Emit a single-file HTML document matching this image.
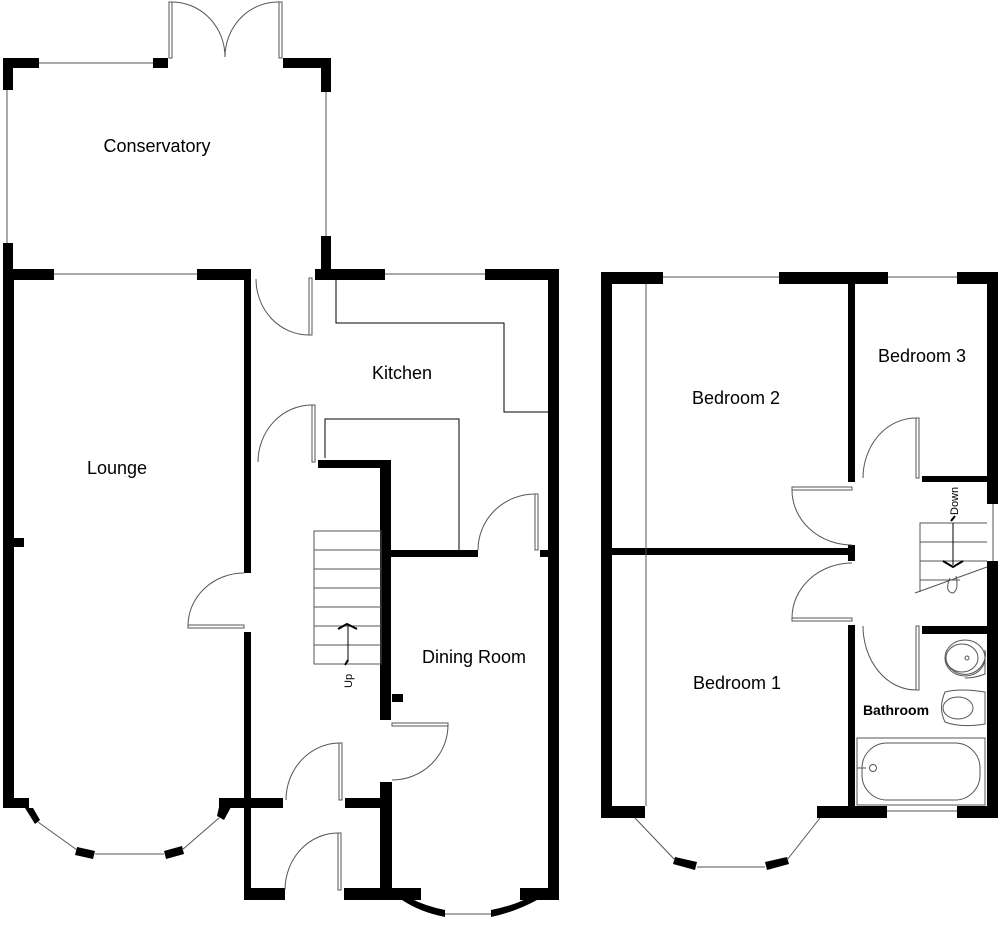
<!DOCTYPE html>
<html><head><meta charset="utf-8"><style>
html,body{margin:0;padding:0;background:#fff;}
svg{display:block;}
text{font-family:"Liberation Sans",Arial,sans-serif;fill:#000;}
</style></head><body>
<svg width="1000" height="929" viewBox="0 0 1000 929" xmlns="http://www.w3.org/2000/svg">
<g fill="#000" stroke="none">
<rect x="3" y="58" width="36" height="10"/><rect x="3" y="58" width="10" height="32"/>
<rect x="153" y="58" width="15" height="10"/>
<rect x="283" y="58" width="48" height="10"/><rect x="321" y="58" width="10" height="34"/>
<rect x="321" y="236" width="10" height="42"/>
<rect x="3" y="243" width="10" height="37"/>
<rect x="3" y="269" width="51" height="11"/>
<rect x="197" y="269" width="54" height="11"/>
<rect x="244" y="269" width="7" height="304"/>
<rect x="244" y="632" width="7" height="268"/>
<rect x="315" y="269" width="70" height="11"/>
<rect x="485" y="269" width="74" height="11"/>
<rect x="548" y="269" width="11" height="631"/>
<rect x="3" y="269" width="11" height="539"/>
<rect x="14" y="538" width="10" height="9"/>
<rect x="3" y="798" width="26" height="10"/>
<rect x="219" y="798" width="64" height="10"/>
<rect x="345" y="798" width="44" height="10"/>
<rect x="318" y="460" width="71" height="8"/>
<rect x="380" y="460" width="11" height="260"/>
<rect x="380" y="782" width="12" height="118"/>
<rect x="389" y="550" width="89" height="7"/>
<rect x="540" y="550" width="8" height="7"/>
<rect x="392" y="694" width="11" height="8"/>
<rect x="244" y="888" width="41" height="12"/>
<rect x="344" y="888" width="77" height="12"/>
<rect x="520" y="888" width="39" height="12"/>
<polygon points="25,808 33,808 40,820 35,824"/>
<polygon points="77,847 95,851 93,859 75,855"/>
<polygon points="164,851 182,846 184,854 166,859"/>
<polygon points="219,807 231,807 224,820 217,816"/>
<path d="M402,900 Q420,912 445,917 L445,910 Q425,906 410,898 Z"/>
<path d="M491,917 Q515,912 537,900 L528,898 Q512,906 491,910 Z"/>
<rect x="601" y="272" width="62" height="12"/>
<rect x="779" y="272" width="109" height="12"/>
<rect x="957" y="272" width="41" height="12"/>
<rect x="601" y="272" width="11" height="546"/>
<rect x="848" y="272" width="7" height="210"/>
<rect x="987" y="272" width="11" height="232"/>
<rect x="922" y="476" width="65" height="6"/>
<rect x="601" y="548" width="254" height="7"/>
<rect x="848" y="545" width="7" height="16"/>
<rect x="848" y="625" width="7" height="193"/>
<rect x="922" y="626" width="65" height="8"/>
<rect x="987" y="561" width="11" height="257"/>
<rect x="601" y="806" width="44" height="12"/>
<rect x="817" y="806" width="70" height="12"/>
<rect x="957" y="806" width="41" height="12"/>
<polygon points="675,857 697,862 695,870 673,864"/>
<polygon points="765,862 787,857 789,864 767,870"/>
</g>
<g fill="none" stroke="#555" stroke-width="1">
<line x1="39" y1="63" x2="153" y2="63"/>
<line x1="7" y1="90" x2="7" y2="243"/>
<line x1="326" y1="92" x2="326" y2="236"/>
<line x1="54" y1="274" x2="197" y2="274"/>
<line x1="385" y1="274" x2="485" y2="274"/>
<rect x="169" y="2" width="3" height="56"/><rect x="279" y="2" width="3" height="56"/>
<path d="M172,2 A53,55 0 0 1 225,57"/>
<path d="M279,2 A53,55 0 0 0 225,57"/>
<rect x="309" y="278" width="3" height="57"/>
<path d="M256,279 A53,56 0 0 0 309,335"/>
<polyline points="336,280 336,323 504,323 504,412 548,412" stroke="#000"/>
<polyline points="325,458 325,419 459,419 459,550" stroke="#000"/>
<rect x="312" y="405" width="3" height="57"/>
<path d="M312,405 A54,57 0 0 0 258,462"/>
<rect x="535" y="494" width="3" height="56"/>
<path d="M535,494 A57,56 0 0 0 478,550"/>
<rect x="188" y="625" width="56" height="3"/>
<path d="M244,573 A56,53 0 0 0 188,626"/>
<rect x="392" y="723" width="56" height="3"/>
<path d="M448,725 A56,55 0 0 1 392,780"/>
<rect x="339" y="743" width="3" height="57"/>
<path d="M339,743 A54,57 0 0 0 286,800"/>
<rect x="338" y="833" width="3" height="57"/>
<path d="M338,833 A53,57 0 0 0 285,890"/>
<rect x="314" y="531" width="67" height="133"/>
<line x1="314" y1="550" x2="381" y2="550"/><line x1="314" y1="569" x2="381" y2="569"/>
<line x1="314" y1="588" x2="381" y2="588"/><line x1="314" y1="607" x2="381" y2="607"/>
<line x1="314" y1="626" x2="381" y2="626"/><line x1="314" y1="645" x2="381" y2="645"/>
<line x1="348" y1="662" x2="348" y2="626" stroke="#000"/>
<polyline points="338,629 347,624 357,629" stroke="#000" stroke-width="2"/>
<line x1="345" y1="665" x2="348" y2="660" stroke="#000" stroke-width="2"/>
<line x1="38" y1="822" x2="77" y2="850"/>
<line x1="95" y1="854" x2="164" y2="854"/>
<line x1="182" y1="850" x2="219" y2="818"/>
<line x1="445" y1="914" x2="491" y2="914"/>
<line x1="663" y1="277" x2="779" y2="277"/>
<line x1="888" y1="277" x2="957" y2="277"/>
<line x1="887" y1="811" x2="957" y2="811"/>
<line x1="993" y1="504" x2="993" y2="561"/>
<line x1="646" y1="284" x2="646" y2="806"/>
<line x1="635" y1="818" x2="675" y2="860"/>
<line x1="697" y1="867" x2="765" y2="867"/>
<line x1="787" y1="860" x2="820" y2="818"/>
<rect x="916" y="418" width="3" height="60"/>
<path d="M916,418 A53,60 0 0 0 863,478"/>
<rect x="792" y="487" width="60" height="3"/>
<path d="M792,490 A60,55 0 0 0 852,545"/>
<rect x="792" y="618" width="60" height="3"/>
<path d="M852,563 A60,55 0 0 0 792,618"/>
<rect x="916" y="626" width="3" height="64"/>
<path d="M863,626 A53,64 0 0 0 916,690"/>
<polyline points="920,592 920,523 987,523"/>
<line x1="920" y1="542" x2="987" y2="542"/>
<line x1="920" y1="561" x2="987" y2="561"/>
<line x1="920" y1="580" x2="960" y2="580"/>
<line x1="915" y1="593" x2="987" y2="567"/>
<line x1="953" y1="523" x2="953" y2="565" stroke="#000"/>
<polyline points="943,561 953,567 963,561" stroke="#000" stroke-width="2"/>
<line x1="951" y1="521" x2="955" y2="516" stroke="#000" stroke-width="2"/>
<path d="M950,578 Q944,592 953,593 Q959,590 956,576"/>
<path d="M945,658 A20,20 0 1 0 985,650 L985,674 Q975,678 965,678"/>
<ellipse cx="965" cy="658" rx="20" ry="18"/>
<ellipse cx="962" cy="658" rx="16" ry="14"/>
<circle cx="967" cy="658" r="2"/>
<path d="M985,692 Q960,688 945,692 Q938,708 945,722 Q960,728 985,724 Z"/>
<ellipse cx="958" cy="708" rx="15" ry="11"/>
<rect x="857" y="738" width="128" height="67"/>
<rect x="862" y="743" width="118" height="57" rx="25" ry="25"/>
<circle cx="873" cy="768" r="3.5"/>
<line x1="857" y1="768" x2="866" y2="768"/>
</g>
<g font-size="18">
<text x="157" y="152" text-anchor="middle">Conservatory</text>
<text x="402" y="379" text-anchor="middle">Kitchen</text>
<text x="117" y="474" text-anchor="middle">Lounge</text>
<text x="474" y="663" text-anchor="middle">Dining Room</text>
<text x="736" y="404" text-anchor="middle">Bedroom 2</text>
<text x="922" y="362" text-anchor="middle">Bedroom 3</text>
<text x="737" y="689" text-anchor="middle">Bedroom 1</text>
<text x="896" y="715" text-anchor="middle" font-size="14" font-weight="bold">Bathroom</text>
<text x="0" y="0" font-size="11" transform="translate(352,688) rotate(-90)">Up</text>
<text x="0" y="0" font-size="11" transform="translate(958,515) rotate(-90)">Down</text>
</g>
</svg>
</body></html>
